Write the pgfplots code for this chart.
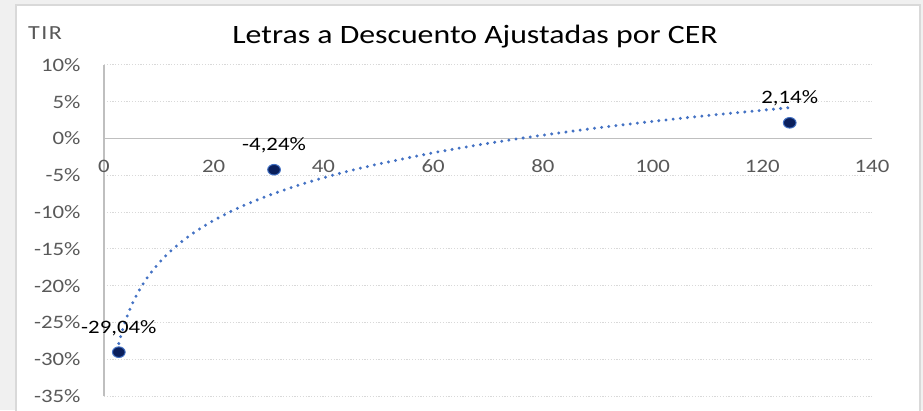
\documentclass[border=0pt]{standalone}
\usepackage{fontspec}
\setmainfont{Carlito}[FakeStretch=1.2]
\usepackage{pgfplots}
\usepackage{pgfplotstable}
\pgfplotsset{compat=1.18}
\definecolor{bggray}{HTML}{F0F0F0}
\definecolor{bordergray}{HTML}{D9D9D9}
\definecolor{axgray}{HTML}{BFBFBF}
\definecolor{gridgray}{HTML}{D9D9D9}
\definecolor{ticktext}{HTML}{595959}
\definecolor{navy}{HTML}{0A1F5C}
\definecolor{midblue}{HTML}{4472C4}
\definecolor{trend}{HTML}{4472C4}

\pgfplotstableread{
x y label
2.7 -29.04 -29,04
31 -4.24 -4,24
125 2.14 2,14
}\datapts

\pgfplotstableread{
x y
2.7 -27.87
3 -26.99
3.5 -25.70
4 -24.58
5 -22.72
6 -21.19
7 -19.90
8 -18.79
10 -16.92
12 -15.40
14 -14.11
16 -12.99
18 -12.01
20 -11.13
23 -9.96
26 -8.93
30 -7.74
35 -6.45
40 -5.33
45 -4.35
50 -3.47
60 -1.94
70 -0.65
80 0.46
90 1.45
100 2.33
110 3.13
120 3.85
125 4.20
}\trendpts

\begin{document}
\begin{tikzpicture}[x=1bp,y=1bp]
\fill[bggray] (0,0) rectangle (923,410);
\filldraw[fill=white, draw=bordergray, line width=1.5bp] (16,-10) rectangle (920,405);
\begin{axis}[
  at={(104bp,14bp)}, anchor=south west,
  scale only axis, width=768bp, height=331bp,
  xmin=0, xmax=140, ymin=-35, ymax=10,
  axis x line*=middle, axis y line*=left,
  axis line style={draw=axgray, line width=1.3bp},
  hide obscured x ticks=false, hide obscured y ticks=false,
  major tick length=0pt,
  xtick={0,20,40,60,80,100,120,140},
  xticklabels={0,20,40,60,80,100,120,140},
  ytick={-35,-30,-25,-20,-15,-10,-5,0,5,10},
  yticklabels={-35\%,-30\%,-25\%,-20\%,-15\%,-10\%,-5\%,0\%,5\%,10\%},
  tick label style={font=\fontsize{19bp}{22bp}\selectfont, text=ticktext},
  xticklabel style={anchor=center, yshift=-28bp},
  yticklabel style={anchor=east, xshift=-20bp},
  ymajorgrids,
  grid style={draw=gridgray, line width=1bp, dash pattern=on 1.2bp off 1.6bp},
  clip=false,
]
\addplot[draw=trend, line width=3.3bp, line cap=round, dash pattern=on 0pt off 7.2bp, smooth] table[x=x,y=y] {\trendpts};
\addplot[only marks, mark=*, mark size=5.3bp,
  mark options={fill=navy, draw=midblue, line width=1bp, xscale=1.2},
  point meta=explicit symbolic,
  nodes near coords={\pgfplotspointmeta\%},
  nodes near coords style={anchor=base, yshift=19bp, font=\fontsize{19bp}{22bp}\selectfont, text=black}]
  table[x=x,y=y,meta=label] {\datapts};
\end{axis}
\node[font=\fontsize{26.5bp}{30bp}\selectfont, text=black] at (475,373) {Letras a Descuento Ajustadas por CER};
\node[font=\fontsize{20bp}{24bp}\selectfont, text=ticktext] at (45,377) {T\kern1.5bp I\kern1.5bp R};
\pgfresetboundingbox
\useasboundingbox (0,0) rectangle (923,410);
\end{tikzpicture}
\end{document}
